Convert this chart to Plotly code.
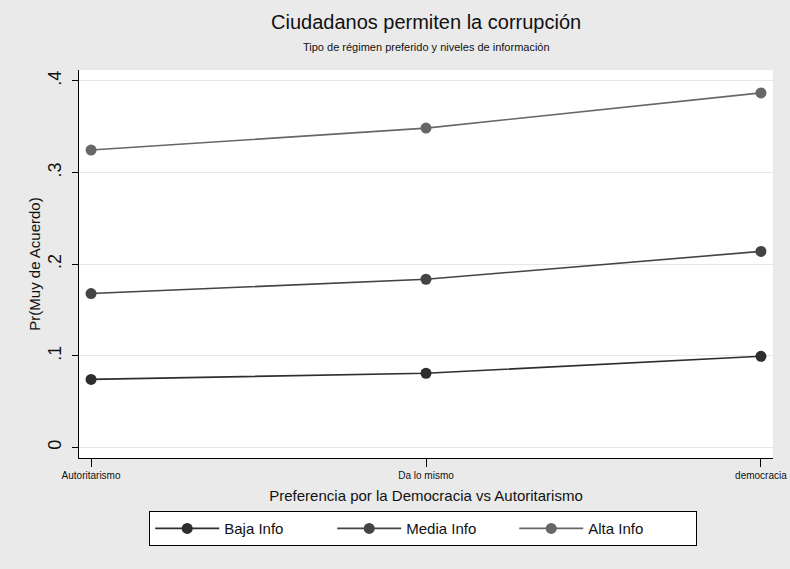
import plotly.graph_objects as go

categories = ["Autoritarismo", "Da lo mismo", "democracia"]
baja = [0.0743, 0.0810, 0.0995]
media = [0.168, 0.1836, 0.214]
alta = [0.3246, 0.3486, 0.387]
series_names = ["Baja Info", "Media Info", "Alta Info"]
colors = ["#2e2e2e", "#444444", "#676767"]
ytick_vals = [0, 0.1, 0.2, 0.3, 0.4]
ytick_text = ["0", ".1", ".2", ".3", ".4"]

FONT = "Liberation Sans, Arial, sans-serif"
xpos = list(range(len(categories)))

fig = go.Figure()
for name, vals, c in zip(series_names, [baja, media, alta], colors):
    fig.add_trace(go.Scatter(
        x=xpos, y=vals, name=name, mode="lines+markers",
        line=dict(color=c, width=1.6),
        marker=dict(color=c, size=11),
    ))

fig.update_layout(
    width=790, height=569,
    paper_bgcolor="#EAEAEA", plot_bgcolor="white",
    margin=dict(l=79, r=17, t=70, b=111, autoexpand=False),
    font=dict(family=FONT, color="#111111"),
    showlegend=True,
    legend=dict(
        orientation="h", x=0.496, xanchor="center", y=-0.137, yanchor="top",
        bgcolor="white", bordercolor="black", borderwidth=1,
        font=dict(size=15, family=FONT, color="#111111"),
        entrywidth=103, itemwidth=64,
    ),
    annotations=[
        dict(text="Ciudadanos permiten la corrupción", xref="paper", yref="paper",
             x=0.5, y=1.0, yshift=48, xanchor="center", yanchor="middle",
             showarrow=False, font=dict(size=20, family=FONT, color="#111111")),
        dict(text="Tipo de régimen preferido y niveles de información", xref="paper", yref="paper",
             x=0.5, y=1.0, yshift=23, xanchor="center", yanchor="middle",
             showarrow=False, font=dict(size=11, family=FONT, color="#111111")),
    ],
)

fig.update_xaxes(
    range=[-0.036, 2.036], tickmode="array", tickvals=xpos, ticktext=categories,
    ticks="outside", ticklen=8, tickcolor="black", showline=True, linecolor="black",
    linewidth=1, showgrid=False, zeroline=False, automargin=False,
    tickfont=dict(size=10, family=FONT, color="#111111"),
    title=dict(text="Preferencia por la Democracia vs Autoritarismo", standoff=10,
               font=dict(size=15, family=FONT, color="#111111")),
)
fig.update_yaxes(
    range=[-0.0115, 0.412], tickmode="array", tickvals=ytick_vals, ticktext=ytick_text,
    tickangle=-90, ticks="outside", ticklen=6, tickcolor="black", showline=True,
    linecolor="black", linewidth=1, showgrid=True, gridcolor="#E6E6E6", gridwidth=1,
    zeroline=False, automargin=False, ticklabelstandoff=4,
    tickfont=dict(size=18, family=FONT, color="#111111"),
    title=dict(text="Pr(Muy de Acuerdo)", standoff=0,
               font=dict(size=15, family=FONT, color="#111111")),
)

fig.write_html(
    "out.html",
    config={"displayModeBar": False},
    post_script="document.body.style.margin='0';document.body.style.background='#EAEAEA';",
)
